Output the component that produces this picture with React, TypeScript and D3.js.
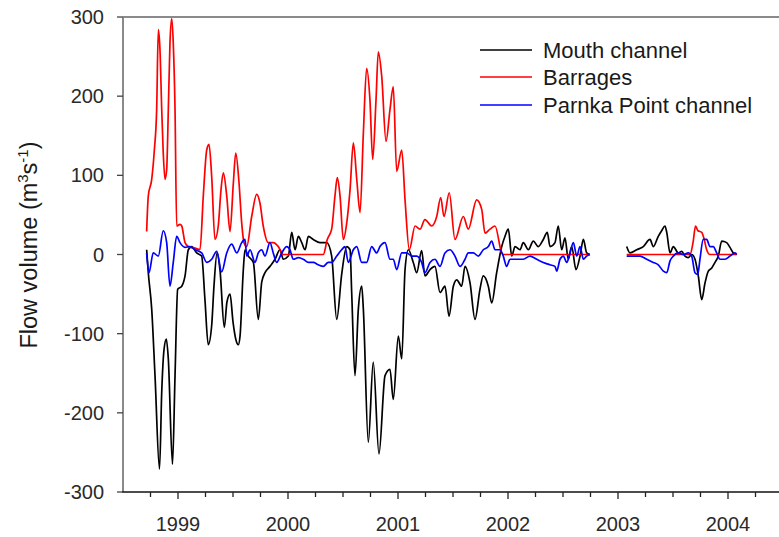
import React from "react";
import * as d3 from "d3";

type Pt = [number, number | null];

// Flow volume (m³/s) by decimal year; null marks the break in the record.
const mouthChannel: Pt[] = [
  [1998.715, 6], [1998.73, -23], [1998.761, -69], [1998.791, -153], [1998.832, -271],
  [1998.852, -174], [1998.873, -120], [1998.894, -107], [1998.912, -132], [1998.95, -265],
  [1998.973, -153], [1998.997, -44], [1999.034, -40], [1999.064, -27], [1999.094, 6],
  [1999.125, 10], [1999.17, 2], [1999.215, -2], [1999.245, -57], [1999.275, -114],
  [1999.306, -90], [1999.327, -40], [1999.355, 2], [1999.382, -20], [1999.421, -92],
  [1999.445, -60], [1999.473, -50], [1999.5, -85], [1999.527, -108], [1999.548, -114],
  [1999.564, -103], [1999.594, -19], [1999.609, 6], [1999.639, -2], [1999.685, -10],
  [1999.73, -82], [1999.761, -35], [1999.791, -23], [1999.836, -15], [1999.882, -6],
  [1999.927, 6], [1999.957, -6], [2000.003, -2], [2000.034, 28], [2000.064, 6],
  [2000.094, 23], [2000.125, 15], [2000.155, 6], [2000.185, 23], [2000.23, 19],
  [2000.291, 15], [2000.352, 15], [2000.397, -2], [2000.443, -82], [2000.488, -25],
  [2000.534, 10], [2000.564, 6], [2000.579, -48], [2000.609, -153], [2000.639, -70],
  [2000.67, -40], [2000.685, -69], [2000.73, -237], [2000.775, -136], [2000.827, -252],
  [2000.882, -153], [2000.927, -145], [2000.957, -183], [2001.003, -103], [2001.034, -132],
  [2001.064, -19], [2001.094, 6], [2001.139, -10], [2001.17, -23], [2001.215, 5],
  [2001.245, -27], [2001.291, -19], [2001.336, -15], [2001.382, -48], [2001.427, -40],
  [2001.464, -78], [2001.503, -40], [2001.534, -32], [2001.579, -40], [2001.609, -15],
  [2001.655, -36], [2001.7, -82], [2001.745, -44], [2001.775, -27], [2001.821, -40],
  [2001.852, -61], [2001.897, -23], [2001.943, 10], [2001.973, 23], [2002.003, 32],
  [2002.034, -2], [2002.064, 10], [2002.109, 6], [2002.139, 15], [2002.185, 6],
  [2002.23, 17], [2002.275, 10], [2002.321, 19], [2002.357, 28], [2002.382, 10],
  [2002.427, 15], [2002.457, 36], [2002.488, 6], [2002.518, 21], [2002.548, -6],
  [2002.579, 10], [2002.618, -19], [2002.655, -2], [2002.685, 19], [2002.715, 2],
  [2002.745, 0], [2002.9, null],
  [2003.079, 10], [2003.109, 2], [2003.17, 6], [2003.23, 10], [2003.291, 19],
  [2003.321, 10], [2003.366, 23], [2003.397, 30], [2003.427, 36], [2003.443, 28],
  [2003.473, 2], [2003.503, 10], [2003.548, 2], [2003.579, 4], [2003.609, -2],
  [2003.639, -4], [2003.67, 0], [2003.7, -6], [2003.73, -27], [2003.761, -57],
  [2003.791, -36], [2003.821, -21], [2003.852, -17], [2003.882, -10], [2003.912, -2],
  [2003.943, 17], [2003.988, 15], [2004.018, 9], [2004.048, 2], [2004.079, 0],
];

const barrages: Pt[] = [
  [1998.715, 29], [1998.73, 74], [1998.761, 95], [1998.785, 132], [1998.806, 183],
  [1998.821, 284], [1998.836, 259], [1998.852, 183], [1998.866, 128], [1998.882, 95],
  [1998.897, 107], [1998.912, 183], [1998.927, 267], [1998.943, 298], [1998.957, 267],
  [1998.973, 183], [1998.988, 36], [1999.018, 38], [1999.034, 36], [1999.064, 15],
  [1999.094, 10], [1999.155, 8], [1999.2, 6], [1999.23, 74], [1999.261, 132],
  [1999.282, 139], [1999.306, 99], [1999.336, 19], [1999.366, 36], [1999.391, 82],
  [1999.412, 103], [1999.443, 74], [1999.473, 29], [1999.503, 90], [1999.525, 128],
  [1999.555, 90], [1999.579, 40], [1999.6, 15], [1999.625, 10], [1999.67, 48],
  [1999.715, 76], [1999.745, 65], [1999.775, 36], [1999.821, 15], [1999.866, 15],
  [1999.912, 10], [1999.957, 0], [2000.321, 0], [2000.357, 19], [2000.397, 32],
  [2000.427, 74], [2000.448, 97], [2000.473, 74], [2000.503, 19], [2000.534, 40],
  [2000.564, 82], [2000.594, 141], [2000.625, 95], [2000.655, 53], [2000.685, 153],
  [2000.715, 235], [2000.745, 195], [2000.77, 120], [2000.8, 195], [2000.821, 256],
  [2000.852, 225], [2000.891, 143], [2000.927, 183], [2000.957, 212], [2000.988, 105],
  [2001.034, 132], [2001.064, 69], [2001.103, 6], [2001.155, 36], [2001.2, 32],
  [2001.245, 44], [2001.306, 36], [2001.352, 48], [2001.388, 72], [2001.418, 48],
  [2001.466, 78], [2001.518, 19], [2001.594, 48], [2001.639, 32], [2001.715, 69],
  [2001.761, 57], [2001.791, 27], [2001.836, 32], [2001.882, 36], [2001.943, 2],
  [2001.957, 0], [2002.745, 0], [2002.9, null],
  [2003.079, 0], [2003.655, 0], [2003.682, 15], [2003.705, 36], [2003.727, 30],
  [2003.761, 28], [2003.782, 20], [2003.806, 6], [2003.836, 0], [2004.079, 0],
];

const parnkaPoint: Pt[] = [
  [1998.715, 2], [1998.736, -23], [1998.775, 2], [1998.821, -2], [1998.866, 30],
  [1998.897, 15], [1998.927, -40], [1998.957, -10], [1998.988, 23], [1999.018, 15],
  [1999.064, 9], [1999.109, 10], [1999.155, 6], [1999.215, 2], [1999.261, -10],
  [1999.306, -6], [1999.352, 4], [1999.397, -22], [1999.443, 2], [1999.488, 13],
  [1999.534, 2], [1999.579, 15], [1999.609, 19], [1999.625, -2], [1999.655, 6],
  [1999.7, -10], [1999.73, 2], [1999.761, 6], [1999.791, -2], [1999.836, 15],
  [1999.866, 2], [1999.897, -10], [1999.943, 2], [1999.988, 10], [2000.018, 6],
  [2000.048, -6], [2000.094, -4], [2000.139, -6], [2000.185, -10], [2000.23, -10],
  [2000.275, -13], [2000.321, -15], [2000.366, -10], [2000.397, -10], [2000.443, -2],
  [2000.488, 6], [2000.518, 10], [2000.548, -10], [2000.594, 6], [2000.625, 10],
  [2000.67, -10], [2000.715, -10], [2000.761, 10], [2000.806, 2], [2000.836, 10],
  [2000.882, 15], [2000.927, -6], [2000.957, -6], [2000.988, -19], [2001.034, 2],
  [2001.079, 2], [2001.125, -2], [2001.17, -2], [2001.215, -10], [2001.245, -23],
  [2001.291, -10], [2001.336, -6], [2001.382, -15], [2001.427, 2], [2001.473, 6],
  [2001.518, -2], [2001.564, -15], [2001.609, -6], [2001.639, 2], [2001.685, 2],
  [2001.73, -2], [2001.775, 6], [2001.821, 10], [2001.852, 17], [2001.882, 6],
  [2001.927, 6], [2001.957, -2], [2001.988, -15], [2002.018, -6], [2002.094, -6],
  [2002.139, -6], [2002.2, -2], [2002.261, -6], [2002.321, -10], [2002.382, -13],
  [2002.427, -15], [2002.443, -21], [2002.473, -6], [2002.503, -2], [2002.534, -10],
  [2002.564, 2], [2002.594, 15], [2002.625, -2], [2002.655, 10], [2002.685, -6],
  [2002.715, -2], [2002.745, 0], [2002.9, null],
  [2003.079, -2], [2003.139, -2], [2003.2, -2], [2003.261, -6], [2003.321, -10],
  [2003.366, -13], [2003.412, -21], [2003.443, -23], [2003.473, -8], [2003.503, -2],
  [2003.548, 2], [2003.594, 0], [2003.639, 2], [2003.67, -2], [2003.7, -23],
  [2003.725, -25], [2003.745, -6], [2003.775, 19], [2003.806, 19], [2003.836, 10],
  [2003.866, 10], [2003.897, 2], [2003.927, -6], [2003.973, -6], [2004.018, -2],
  [2004.064, 2], [2004.079, 0],
];

const yTicks = [-300, -200, -100, 0, 100, 200, 300];
const yearTicks = [1999, 2000, 2001, 2002, 2003, 2004];
const quarterTicks = d3.range(1998.75, 2004.5, 0.25);

const seriesList = [
  { name: "Mouth channel", data: mouthChannel, color: "#000000" },
  { name: "Barrages", data: barrages, color: "#ff0000" },
  { name: "Parnka Point channel", data: parnkaPoint, color: "#0000ff" },
];

const W = 779;
const H = 537;
const FONT = "'Liberation Sans', Arial, sans-serif";

export default function App() {
  const x = d3.scaleLinear().domain([1998.5, 2004.5]).range([123, 783]);
  const y = d3.scaleLinear().domain([-300, 300]).range([492, 17]);

  const line = d3
    .line<Pt>()
    .defined((d) => d[1] !== null)
    .curve(d3.curveMonotoneX)
    .x((d) => x(d[0]))
    .y((d) => y(d[1] as number));

  const legendY = [50, 77, 105];

  return (
    <svg
      width={W}
      height={H}
      style={{ position: "absolute", left: 0, top: 0, background: "#fff" }}
      fontFamily={FONT}
    >
      {/* frame */}
      <line x1={123} x2={W} y1={17} y2={17} stroke="#8a8a8a" strokeWidth={2.2} />
      <line x1={123} x2={123} y1={17} y2={492} stroke="#8a8a8a" strokeWidth={2} />

      {/* series */}
      {seriesList.map((s) => (
        <path
          key={s.name}
          d={line(s.data) || ""}
          fill="none"
          stroke={s.color}
          strokeWidth={1.7}
          strokeLinejoin="round"
        />
      ))}

      {/* x axis */}
      <line x1={122} x2={W} y1={492} y2={492} stroke="#111" strokeWidth={1.6} />
      {quarterTicks.map((t) => {
        const major = Math.abs(t - Math.round(t)) < 1e-6;
        return (
          <line
            key={t}
            x1={x(t)}
            x2={x(t)}
            y1={492}
            y2={major ? 499 : 497}
            stroke="#222"
            strokeWidth={1.3}
          />
        );
      })}
      {yearTicks.map((t) => (
        <text
          key={t}
          x={x(t)}
          y={531}
          textAnchor="middle"
          fontSize={20}
          fill="#2a2a2a"
        >
          {t}
        </text>
      ))}

      {/* y axis */}
      {yTicks.map((t) => (
        <g key={t}>
          <line x1={117} x2={123} y1={y(t)} y2={y(t)} stroke="#444" strokeWidth={1.3} />
          <text
            x={104}
            y={y(t)}
            dy="0.35em"
            textAnchor="end"
            fontSize={20}
            fill="#2a2a2a"
          >
            {t}
          </text>
        </g>
      ))}
      <text
        transform={`translate(37,245) rotate(-90)`}
        textAnchor="middle"
        fontSize={23.5}
        fill="#1a1a1a"
      >
        Flow volume (m
        <tspan fontSize={15} dy={-9}>3</tspan>
        <tspan dy={9}>s</tspan>
        <tspan fontSize={15} dy={-9}>-1</tspan>
        <tspan dy={9}>)</tspan>
      </text>

      {/* legend */}
      {seriesList.map((s, i) => (
        <g key={s.name}>
          <line
            x1={480}
            x2={532}
            y1={legendY[i]}
            y2={legendY[i]}
            stroke={s.color}
            strokeWidth={1.6}
          />
          <text
            x={543}
            y={legendY[i]}
            dy="0.36em"
            fontSize={22}
            fill="#1a1a1a"
          >
            {s.name}
          </text>
        </g>
      ))}
    </svg>
  );
}
